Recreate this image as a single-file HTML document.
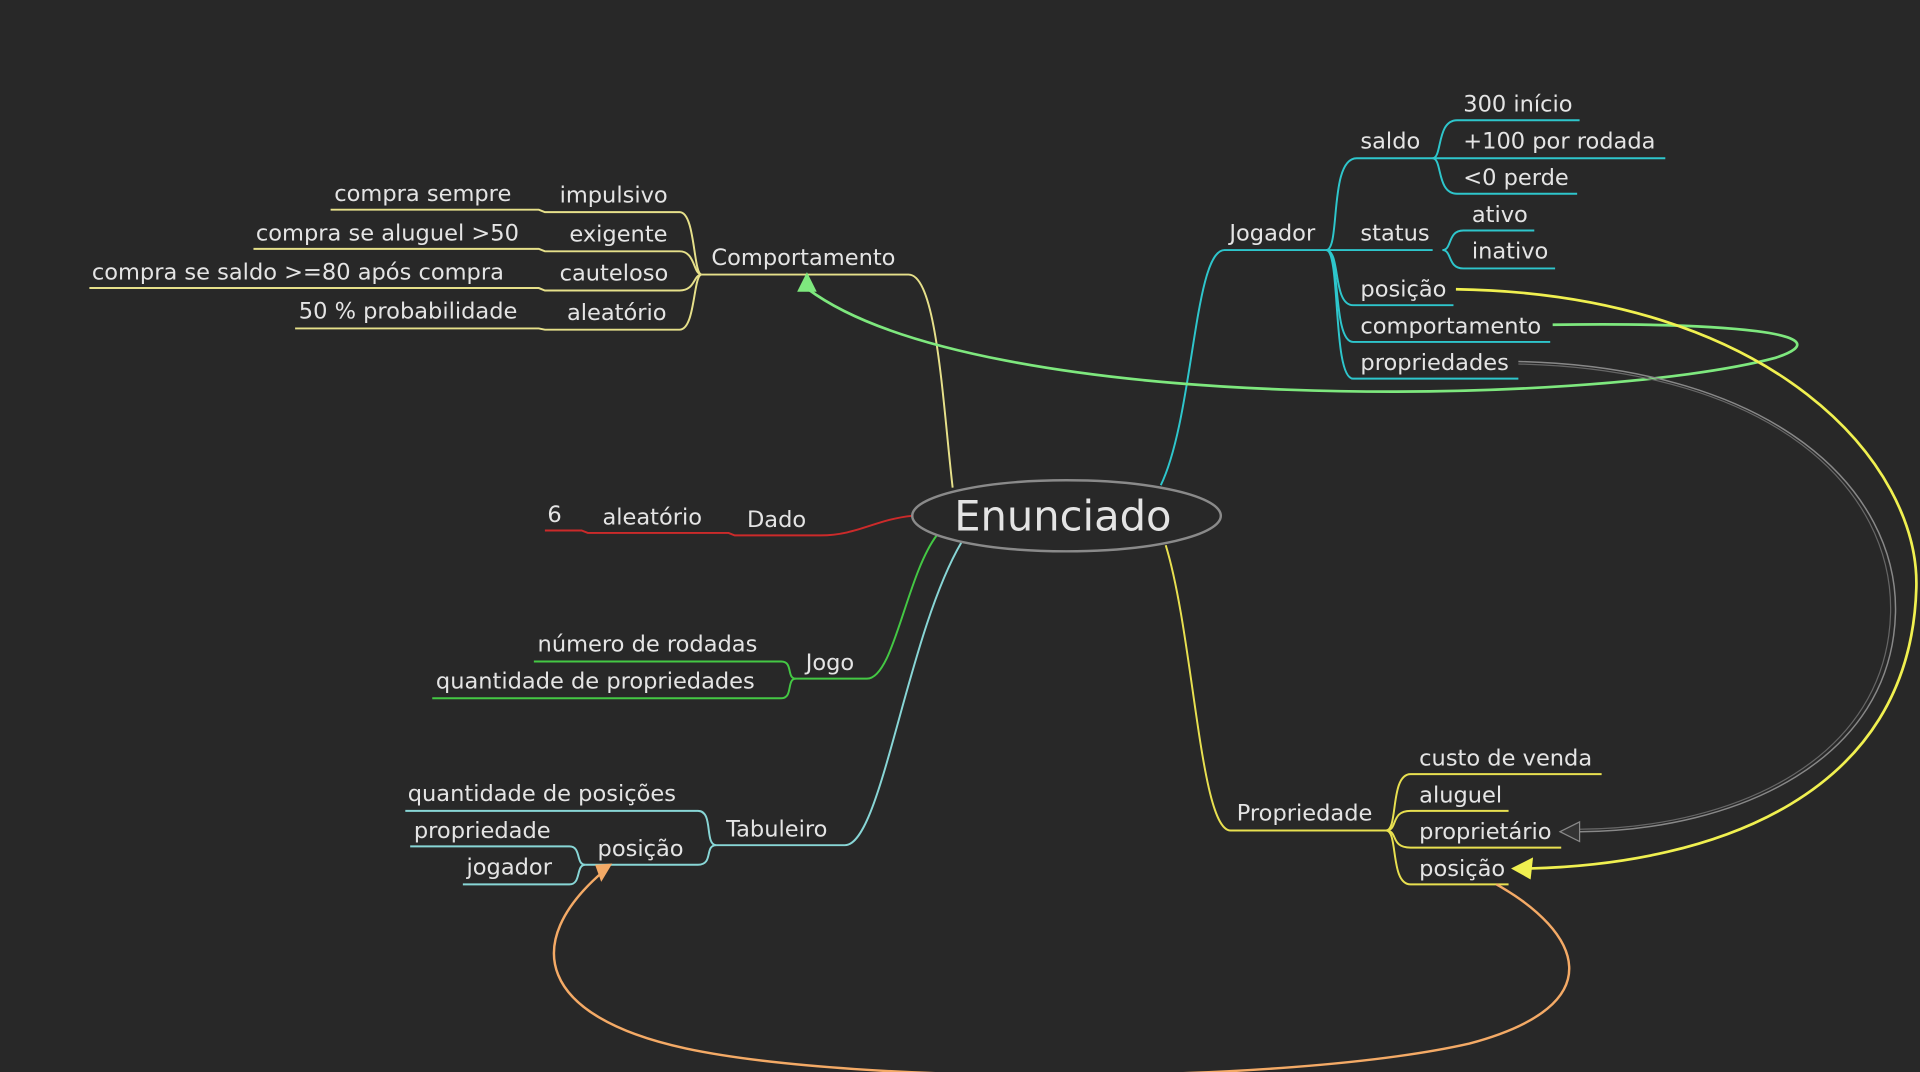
<!DOCTYPE html>
<html><head><meta charset="utf-8"><style>
html,body{margin:0;padding:0;background:#282828;overflow:hidden}
svg{display:block}
text{font-family:"DejaVu Sans","Liberation Sans",sans-serif;font-size:18.4px;fill:#e4e4e4}
</style></head><body>
<svg width="1920" height="1072" viewBox="0 0 1568 875" xmlns="http://www.w3.org/2000/svg">
<rect width="1568" height="875" fill="#282828"/>
<g fill="none" stroke-width="1.6">
<g stroke="#e6e08a">
<path d="M778,398 C770,330 765,224 742,224 L573,224"/>
<path d="M573,224 C566,224 568,173 555,173 L445,173 L440,171 L270,171"/>
<path d="M573,224 C566,224 568,205 555,205 L445,205 L440,203 L207,203"/>
<path d="M573,224 C566,224 568,237 555,237 L445,237 L440,235 L73,235"/>
<path d="M573,224 C566,224 568,269 555,269 L445,269 L440,268 L241,268"/>
</g>
<g stroke="#cc2a2a">
<path d="M745,421 C715,424 700,437 670,437 L600,437 L595,435 L480,435 L475,433 L445,433"/>
</g>
<g stroke="#44c844">
<path d="M765,437 C740,470 730,554 708,554 L650,554"/>
<path d="M650,554 C642,554 648,540 638,540 L436,540"/>
<path d="M650,554 C642,554 648,570 638,570 L353,570"/>
</g>
<g stroke="#88d6d6">
<path d="M785,443 C740,520 720,690 690,690 L585,690"/>
<path d="M585,690 C575,690 583,662 570,662 L331,662"/>
<path d="M585,690 C575,690 583,706 570,706 L478,706"/>
<path d="M478,706 C470,706 475,691 465,691 L335,691"/>
<path d="M478,706 C470,706 475,722 465,722 L378,722"/>
</g>
<g stroke="#2ec6cc">
<path d="M948,396 C975,340 975,204 1000,204 L1083,204"/>
<path d="M1083,204 C1095,204 1085,129 1108,129 L1170,129"/>
<path d="M1083,204 L1170,204"/>
<path d="M1083,204 C1095,204 1088,249 1105,249 L1187,249"/>
<path d="M1083,204 C1095,204 1088,279 1105,279 L1266,279"/>
<path d="M1083,204 C1095,204 1088,309 1105,309 L1240,309"/>
<path d="M1170,129 C1178,129 1173,98 1190,98 L1290,98"/>
<path d="M1170,129 L1360,129"/>
<path d="M1170,129 C1178,129 1173,158 1190,158 L1288,158"/>
<path d="M1178,204 C1186,204 1182,188 1195,188 L1253,188"/>
<path d="M1178,204 C1186,204 1182,219 1195,219 L1270,219"/>
</g>
<g stroke="#e8e050">
<path d="M952,445 C975,520 980,678 1005,678 L1132,678"/>
<path d="M1132,678 C1142,678 1135,632 1152,632 L1308,632"/>
<path d="M1132,678 C1142,678 1135,662 1152,662 L1232,662"/>
<path d="M1132,678 C1142,678 1135,692 1152,692 L1275,692"/>
<path d="M1132,678 C1142,678 1135,722 1152,722 L1232,722"/>
</g>
<path d="M1268,265 C1410,263 1510,272 1450,292 C1300,332 800,340 660,236" stroke="#7ee87e" stroke-width="2.2"/>
<path d="M1189,236 C1450,240 1568,380 1565,480 C1560,650 1400,705 1250,709" stroke="#f0f050" stroke-width="2.2"/>
<path d="M1240,295 C1450,300 1550,400 1548,500 C1545,620 1420,678 1290,679" stroke="#888" stroke-width="1.2"/>
<path d="M1240,297 C1450,302 1546,400 1544,500 C1541,618 1420,676 1290,677" stroke="#666" stroke-width="1"/>
<path d="M1222,722 C1290,760 1320,820 1200,852 C1050,886 700,886 560,856 C440,830 425,770 492,712" stroke="#f4aa66" stroke-width="2"/>
</g>
<polygon points="659,222 651,238 667,238" fill="#7ee87e"/>
<polygon points="1234,709 1252,700 1250,718" fill="#f0f050"/>
<polygon points="1274,679 1290,671 1290,687" fill="#333" stroke="#888" stroke-width="1"/>
<polygon points="500,705 486,706 491,720" fill="#f4aa66"/>
<ellipse cx="871" cy="421" rx="126" ry="29" fill="#282828" stroke="#8a8a8a" stroke-width="2"/>
<text x="868" y="433" text-anchor="middle" style="font-size:34px">Enunciado</text>
<text x="581" y="216">Comportamento</text>
<text x="457" y="165">impulsivo</text>
<text x="465" y="197">exigente</text>
<text x="457" y="229">cauteloso</text>
<text x="463" y="261">aleatório</text>
<text x="273" y="164">compra sempre</text>
<text x="209" y="196">compra se aluguel &gt;50</text>
<text x="75" y="228">compra se saldo &gt;=80 após compra</text>
<text x="244" y="260">50 % probabilidade</text>
<text x="610" y="430">Dado</text>
<text x="492" y="428">aleatório</text>
<text x="447" y="426">6</text>
<text x="658" y="547">Jogo</text>
<text x="439" y="532">número de rodadas</text>
<text x="356" y="562">quantidade de propriedades</text>
<text x="593" y="683">Tabuleiro</text>
<text x="333" y="654">quantidade de posições</text>
<text x="488" y="699">posição</text>
<text x="338" y="684">propriedade</text>
<text x="381" y="714">jogador</text>
<text x="1004" y="196">Jogador</text>
<text x="1111" y="121">saldo</text>
<text x="1111" y="196">status</text>
<text x="1111" y="242">posição</text>
<text x="1111" y="272">comportamento</text>
<text x="1111" y="302">propriedades</text>
<text x="1195" y="91">300 início</text>
<text x="1195" y="121">+100 por rodada</text>
<text x="1195" y="151">&lt;0 perde</text>
<text x="1202" y="181">ativo</text>
<text x="1202" y="211">inativo</text>
<text x="1010" y="670">Propriedade</text>
<text x="1159" y="625">custo de venda</text>
<text x="1159" y="655">aluguel</text>
<text x="1159" y="685">proprietário</text>
<text x="1159" y="715">posição</text>
</svg>
</body></html>
